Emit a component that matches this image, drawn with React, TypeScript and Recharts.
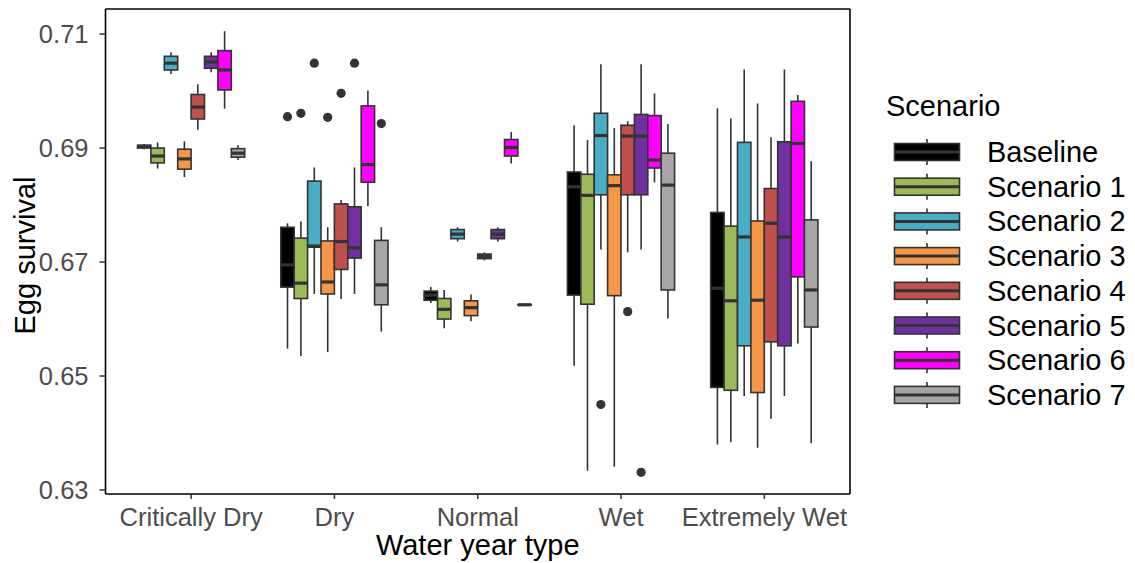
import React from 'react';
import { BarChart, Bar, XAxis, YAxis, Legend } from 'recharts';

const FONT = '"Liberation Sans", Arial, Helvetica, sans-serif';

const waterYearTypes = ['Critically Dry', 'Dry', 'Normal', 'Wet', 'Extremely Wet'];
const scenarioNames = ['Baseline', 'Scenario 1', 'Scenario 2', 'Scenario 3', 'Scenario 4', 'Scenario 5', 'Scenario 6', 'Scenario 7'];
const scenarioColors = ['#000000', '#9BBB59', '#4BACC6', '#F79646', '#C0504D', '#7030A0', '#FF00FF', '#A6A6A6'];
const yTicks = [0.63, 0.65, 0.67, 0.69, 0.71];

// [lower whisker, Q1, median, Q3, upper whisker] for each water year type
const baselineStats = [
  [0.6898, 0.69, 0.6903, 0.6905, 0.6907],
  [0.6548, 0.6656, 0.6695, 0.6761, 0.6768],
  [0.6628, 0.6633, 0.6642, 0.6649, 0.6656],
  [0.6518, 0.6642, 0.6832, 0.6858, 0.694],
  [0.638, 0.648, 0.6654, 0.6787, 0.697],
];
const scenario1Stats = [
  [0.6864, 0.6874, 0.6886, 0.69, 0.691],
  [0.6535, 0.6636, 0.6663, 0.6742, 0.6771],
  [0.6584, 0.66, 0.6617, 0.6636, 0.6651],
  [0.6334, 0.6626, 0.6817, 0.6854, 0.6914],
  [0.6384, 0.6475, 0.6632, 0.6763, 0.6952],
];
const scenario2Stats = [
  [0.703, 0.7037, 0.7049, 0.7061, 0.7068],
  [0.6644, 0.6726, 0.6728, 0.6842, 0.6866],
  [0.6736, 0.6741, 0.6749, 0.6757, 0.6761],
  [0.6722, 0.6818, 0.6922, 0.6961, 0.7047],
  [0.6465, 0.6553, 0.6744, 0.691, 0.7038],
];
const scenario3Stats = [
  [0.6849, 0.6863, 0.6881, 0.6898, 0.6912],
  [0.6542, 0.6644, 0.6665, 0.6737, 0.6761],
  [0.6596, 0.6606, 0.662, 0.6632, 0.6643],
  [0.6341, 0.6641, 0.6834, 0.6853, 0.6935],
  [0.6374, 0.6471, 0.6633, 0.6772, 0.6978],
];
const scenario4Stats = [
  [0.6932, 0.6951, 0.6972, 0.6994, 0.7012],
  [0.6635, 0.6687, 0.6736, 0.6802, 0.6809],
  [0.6703, 0.6706, 0.671, 0.6714, 0.6717],
  [0.6717, 0.6818, 0.6921, 0.694, 0.6947],
  [0.6425, 0.656, 0.6768, 0.6829, 0.6919],
];
const scenario5Stats = [
  [0.7033, 0.704, 0.7051, 0.7061, 0.7068],
  [0.6644, 0.6707, 0.6725, 0.6797, 0.6866],
  [0.6736, 0.6741, 0.6749, 0.6757, 0.6761],
  [0.6722, 0.6818, 0.6921, 0.6959, 0.7047],
  [0.6465, 0.6553, 0.6744, 0.6911, 0.7038],
];
const scenario6Stats = [
  [0.6969, 0.7002, 0.7037, 0.7071, 0.7105],
  [0.6798, 0.684, 0.6871, 0.6974, 0.7001],
  [0.6873, 0.6886, 0.6901, 0.6915, 0.6928],
  [0.684, 0.6865, 0.6879, 0.6957, 0.6996],
  [0.6557, 0.6674, 0.6908, 0.6982, 0.6993],
];
const scenario7Stats = [
  [0.6879, 0.6884, 0.6891, 0.6899, 0.6905],
  [0.6578, 0.6625, 0.666, 0.6738, 0.6761],
  [0.66245, 0.66248, 0.6625, 0.66252, 0.66255],
  [0.6601, 0.6651, 0.6835, 0.6891, 0.6942],
  [0.6382, 0.6586, 0.6651, 0.6774, 0.6877],
];

// outliers for each water year type
const baselineOutliers = [[], [0.6955], [], [], []];
const scenario1Outliers = [[], [0.6961], [], [], []];
const scenario2Outliers = [[], [0.7049], [], [0.645], []];
const scenario3Outliers = [[], [0.6954], [], [], []];
const scenario4Outliers = [[], [0.6996], [], [0.6613], []];
const scenario5Outliers = [[], [0.7049], [], [0.6331], []];
const scenario6Outliers = [[], [], [], [], []];
const scenario7Outliers = [[], [0.6943], [], [], []];

const statsBySeries = [baselineStats, scenario1Stats, scenario2Stats, scenario3Stats, scenario4Stats, scenario5Stats, scenario6Stats, scenario7Stats];
const outliersBySeries = [baselineOutliers, scenario1Outliers, scenario2Outliers, scenario3Outliers, scenario4Outliers, scenario5Outliers, scenario6Outliers, scenario7Outliers];

const data = waterYearTypes.map((t, i) => {
  const row: any = { type: t };
  statsBySeries.forEach((st, k) => {
    row['s' + k] = { stats: st[i], out: outliersBySeries[k][i] };
  });
  return row;
});

const rangeOf = (k: number) => (row: any) => {
  const d = row['s' + k];
  const all = [...d.stats, ...d.out];
  return [Math.min(...all), Math.max(...all)];
};

const renderBox = (k: number, color: string) => (p: any) => {
  const { x, y, width, height, payload } = p;
  const d = payload['s' + k];
  const [lo, q1, med, q3, hi] = d.stats;
  const all = [...d.stats, ...d.out];
  const mn = Math.min(...all);
  const mx = Math.max(...all);
  const py = (v: number) => (mx === mn ? y : y + (height * (mx - v)) / (mx - mn));
  const cx = x + width / 2;
  return (
    <g key={`box-${k}-${p.index}`}>
      <line x1={cx} x2={cx} y1={py(hi)} y2={py(lo)} stroke="#333333" strokeWidth={1.6} />
      <rect x={x} y={py(q3)} width={width} height={Math.max(py(q1) - py(q3), 0)} fill={color} stroke="#333333" strokeWidth={1.6} />
      <line x1={x} x2={x + width} y1={py(med)} y2={py(med)} stroke="#333333" strokeWidth={3.2} />
      {d.out.map((o: number, j: number) => (
        <circle key={j} cx={cx} cy={py(o)} r={4.6} fill="#333333" />
      ))}
    </g>
  );
};

const XTitle = (props: any) => {
  const vb = props.viewBox || { x: 105.5, y: 494, width: 744.5, height: 40 };
  return (
    <text x={vb.x + vb.width / 2} y={vb.y + 61} textAnchor="middle" fontSize={29} fontFamily={FONT} fill="#000">
      Water year type
    </text>
  );
};

const YTitle = (props: any) => {
  const vb = props.viewBox || { x: 45.5, y: 9, width: 60, height: 485 };
  const tx = vb.x - 10.5;
  const ty = vb.y + vb.height / 2 + 4;
  return (
    <text x={tx} y={ty} transform={`rotate(-90, ${tx}, ${ty})`} textAnchor="middle" fontSize={29} fontFamily={FONT} fill="#000">
      Egg survival
    </text>
  );
};

const LegendContent = (props: any) => {
  const payload = (props.payload || []).slice().sort(
    (a: any, b: any) => scenarioNames.indexOf(a.value) - scenarioNames.indexOf(b.value)
  );
  const rowH = 34.7;
  const top = 72;
  return (
    <svg width={255} height={345} style={{ display: 'block', overflow: 'visible' }}>
      <text x={6} y={26} dominantBaseline="central" fontSize={29} fontFamily={FONT} fill="#000">
        Scenario
      </text>
      {payload.map((item: any, i: number) => {
        const cy = top + i * rowH;
        return (
          <g key={item.value}>
            <line x1={47} x2={47} y1={cy - 13} y2={cy + 13} stroke="#333333" strokeWidth={1.6} />
            <rect x={14.5} y={cy - 8.5} width={65} height={17} fill={item.color} stroke="#333333" strokeWidth={1.6} />
            <line x1={14.5} x2={79.5} y1={cy} y2={cy} stroke="#333333" strokeWidth={3} />
            <text x={107} y={cy} dominantBaseline="central" fontSize={29} fontFamily={FONT} fill="#000">
              {item.value}
            </text>
          </g>
        );
      })}
    </svg>
  );
};

export default function App() {
  const domain: [number, number] = [0.6293, 0.7144];
  return (
    <div style={{ position: 'absolute', left: 0, top: 0, width: 1135, height: 563, background: '#ffffff' }}>
      <BarChart
        width={1135}
        height={563}
        data={data}
        margin={{ top: 8, right: 284, bottom: 29, left: 45.5 }}
        barGap={0}
        barSize={13.4}
      >
        <XAxis
          xAxisId="bottom"
          dataKey="type"
          height={40}
          padding={{ left: 14, right: 14 }}
          interval={0}
          tickSize={5}
          tickMargin={9}
          tick={{ fill: '#4D4D4D', fontSize: 25.5, fontFamily: FONT }}
          axisLine={{ stroke: '#000', strokeWidth: 1.6 }}
          tickLine={{ stroke: '#333', strokeWidth: 1.5 }}
          label={<XTitle />}
        />
        <XAxis
          xAxisId="top"
          dataKey="type"
          orientation="top"
          height={1}
          padding={{ left: 14, right: 14 }}
          tick={false}
          tickLine={false}
          axisLine={{ stroke: '#000', strokeWidth: 1.6 }}
        />
        <YAxis
          yAxisId="left"
          width={60}
          domain={domain}
          allowDataOverflow
          ticks={yTicks}
          interval={0}
          tickFormatter={(v: number) => v.toFixed(2)}
          tickSize={6}
          tickMargin={11}
          tick={{ fill: '#4D4D4D', fontSize: 25.5, fontFamily: FONT }}
          axisLine={{ stroke: '#000', strokeWidth: 1.6 }}
          tickLine={{ stroke: '#333', strokeWidth: 1.5 }}
          label={<YTitle />}
        />
        <YAxis
          yAxisId="right"
          orientation="right"
          width={1}
          domain={domain}
          allowDataOverflow
          ticks={yTicks}
          tick={false}
          tickLine={false}
          axisLine={{ stroke: '#000', strokeWidth: 1.6 }}
        />
        {scenarioNames.map((name, k) => (
          <Bar
            key={name}
            name={name}
            xAxisId="bottom"
            yAxisId="left"
            dataKey={rangeOf(k)}
            fill={scenarioColors[k]}
            barSize={13.4}
            isAnimationActive={false}
            shape={renderBox(k, scenarioColors[k])}
          />
        ))}
        <Legend
          layout="vertical"
          align="center"
          verticalAlign="middle"
          width={255}
          wrapperStyle={{ left: 880, top: 80, width: 255 }}
          content={<LegendContent />}
        />
      </BarChart>
    </div>
  );
}
